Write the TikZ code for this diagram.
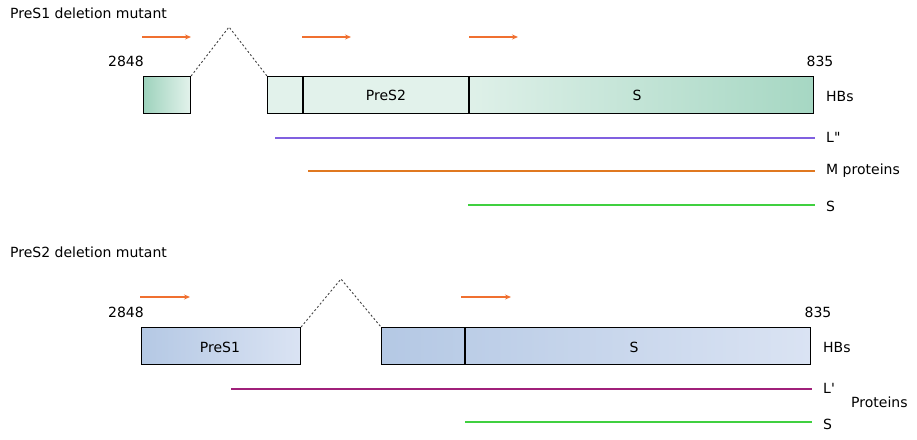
\documentclass[tikz,border=0pt]{standalone}
\usepackage{fontspec}
\setmainfont{DejaVu Sans}
\newfontfamily\nomapfont{DejaVu Sans}
\usetikzlibrary{arrows.meta}
\definecolor{gdark}{HTML}{9DD2BC}
\definecolor{gend}{HTML}{A6D7C3}
\definecolor{glight}{HTML}{E2F2EB}
\definecolor{bdark}{HTML}{B4C8E4}
\definecolor{blight}{HTML}{DAE3F3}
\definecolor{arrorange}{HTML}{F07030}
\definecolor{lpurple}{HTML}{8060E0}
\definecolor{morange}{HTML}{E07820}
\definecolor{sgreen}{HTML}{40D040}
\definecolor{lmagenta}{HTML}{A0207A}
\begin{document}
\begin{tikzpicture}[x=1pt,y=-1pt,
  txt/.style={font=\fontsize{14}{16}\selectfont, inner sep=0pt},
  boxline/.style={draw=black, line width=1.1pt},
  orarrow/.style={draw=arrorange, line width=1.4pt, -{Stealth[length=6pt,width=5pt]}},
  dashline/.style={draw=black!75, dash pattern=on 2pt off 2.2pt, line width=0.9pt},
  prot/.style={line width=1.3pt}]
\useasboundingbox (0,0) rectangle (917,439);
% ---------- top: PreS1 deletion mutant ----------
\node[txt, anchor=west] (t1) at (10,13) {PreS1 deletion mutant};
\coordinate (a1s) at (142,37); \coordinate (a1e) at (191,37);
\coordinate (a2s) at (302,37); \coordinate (a2e) at (351,37);
\coordinate (a3s) at (469,37); \coordinate (a3e) at (518,37);
\draw[orarrow] (a1s) -- (a1e);
\draw[orarrow] (a2s) -- (a2e);
\draw[orarrow] (a3s) -- (a3e);
\node[txt] (n2848a) at (126,61) {2848};
\node[txt] (n835a) at (820,61) {835};
\shade[left color=gdark, right color=glight] (143,76) rectangle (190,113);
\node[boxline, minimum width=47pt, minimum height=37pt, anchor=north west] (b1) at (143,76) {};
\shade[left color=glight, right color=glight] (267,76) rectangle (469,113);
\shade[left color=glight!95!gdark, right color=gend] (469,76) rectangle (813,113);
\node[boxline, minimum width=546pt, minimum height=37pt, anchor=north west] (b2) at (267,76) {};
\draw[line width=1.1pt] (303,76) -- (303,113);
\draw[line width=1.1pt] (469,76) -- (469,113);
\node[txt] (lpres2) at (386,95) {PreS2};
\node[txt] (lsa) at (637,95) {S};
\node[txt, anchor=west] (hbsa) at (826,96) {HBs};
\coordinate (pk1) at (229,27);
\draw[dashline] (b1.north east) -- (pk1) -- (b2.north west);
\coordinate (l1s) at (275,138); \coordinate (l1e) at (815,138);
\coordinate (m1s) at (308,171); \coordinate (m1e) at (815,171);
\coordinate (s1s) at (468,205); \coordinate (s1e) at (815,205);
\draw[prot, draw=lpurple] (l1s) -- (l1e);
\draw[prot, draw=morange] (m1s) -- (m1e);
\draw[prot, draw=sgreen] (s1s) -- (s1e);
\node[txt, anchor=west] (lLa) at (826,137) {\nomapfont L"};
\node[txt, anchor=west] (lMa) at (826,171) {M proteins};
\node[txt, anchor=west] (lSa) at (826,206) {S};
% ---------- bottom: PreS2 deletion mutant ----------
\node[txt, anchor=west] (t2) at (10,252) {PreS2 deletion mutant};
\coordinate (a4s) at (140,297); \coordinate (a4e) at (190,297);
\coordinate (a5s) at (461,297); \coordinate (a5e) at (511,297);
\draw[orarrow] (a4s) -- (a4e);
\draw[orarrow] (a5s) -- (a5e);
\node[txt] (n2848b) at (126,312) {2848};
\node[txt] (n835b) at (818,312) {835};
\shade[left color=bdark, right color=blight] (141,327) rectangle (300,364);
\node[boxline, minimum width=159pt, minimum height=37pt, anchor=north west] (b3) at (141,327) {};
\node[txt] (lpres1) at (220,347) {PreS1};
\shade[left color=bdark, right color=blight] (381,327) rectangle (810,364);
\node[boxline, minimum width=429pt, minimum height=37pt, anchor=north west] (b4) at (381,327) {};
\draw[line width=1.1pt] (465,327) -- (465,364);
\node[txt] (lsb) at (634,347) {S};
\node[txt, anchor=west] (hbsb) at (823,347) {HBs};
\coordinate (pk2) at (341,279);
\draw[dashline] (b3.north east) -- (pk2) -- (b4.north west);
\coordinate (l2s) at (231,389); \coordinate (l2e) at (812,389);
\coordinate (s2s) at (465,422); \coordinate (s2e) at (812,422);
\draw[prot, draw=lmagenta] (l2s) -- (l2e);
\draw[prot, draw=sgreen] (s2s) -- (s2e);
\node[txt, anchor=west] (lLb) at (823,388) {\nomapfont L'};
\node[txt, anchor=west] (lpb) at (851,402) {Proteins};
\node[txt, anchor=west] (lSb) at (823,424) {S};
\end{tikzpicture}
\end{document}
